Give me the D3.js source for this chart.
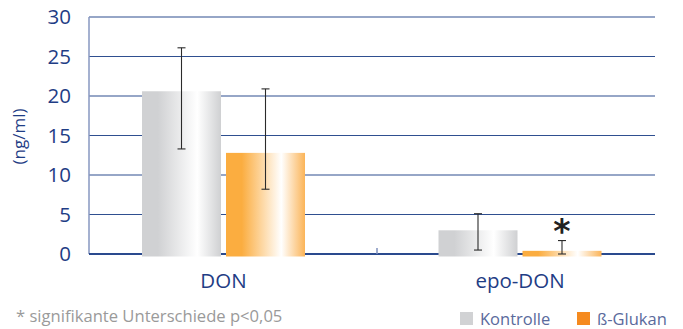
<!DOCTYPE html>
<html><head><meta charset="utf-8">
<script src="https://cdn.jsdelivr.net/npm/d3@7"></script>
<style>body{margin:0;background:#fff}svg{display:block}</style>
</head><body>
<script>
const categories = ["DON", "epo-DON"];
const seriesNames = ["Kontrolle", "ß-Glukan"];
const kontrolleValues = [20.6, 3.0];
const kontrolleLow = [13.3, 0.5];
const kontrolleHigh = [26.1, 5.1];
const glukanValues = [12.8, 0.4];
const glukanLow = [8.2, 0.0];
const glukanHigh = [20.9, 1.7];
const significant = [[false, false], [false, true]];
const yTicks = [0, 5, 10, 15, 20, 25, 30];
const yLabel = "(ng/ml)";
const footnote = "* signifikante Unterschiede p<0,05";

const W = 683, H = 329;
const font = "'Open Sans', sans-serif";
const axisBlue = "#1f3d85";
const svg = d3.select("body").append("svg").attr("width", W).attr("height", H);

const plot = {left: 89, right: 655, top: 17, bottom: 254};
const y = d3.scaleLinear().domain([0, 30]).range([plot.bottom, plot.top]);
const x = d3.scalePoint().domain(categories).range([223.5, 520]);
const xs = d3.scaleBand().domain(seriesNames).range([-81.5, 81.5]).paddingInner(0.0595).paddingOuter(0);

const defs = svg.append("defs");
function grad(id, base, edge) {
  const g = defs.append("linearGradient").attr("id", id).attr("x1", "0").attr("x2", "1").attr("y1", "0").attr("y2", "0");
  [[0, base], [0.2, base], [0.7, "#ffffff"], [1, edge]].forEach(([o, c]) => g.append("stop").attr("offset", o).attr("stop-color", c));
}
grad("gK", "#d0d1d3", "#cfd0d2");
grad("gG", "#fbad40", "#fbb458");

// grid
svg.append("g").selectAll("line").data(yTicks.filter(d => d > 0)).join("line")
  .attr("x1", plot.left).attr("x2", plot.right)
  .attr("y1", d => y(d)).attr("y2", d => y(d))
  .attr("stroke", "#2f4f90").attr("stroke-width", 1.2);
// left axis
svg.append("line").attr("x1", plot.left).attr("x2", plot.left).attr("y1", y(30)).attr("y2", y(0))
  .attr("stroke", "#8797c0").attr("stroke-width", 1.5);
// baseline
svg.append("line").attr("x1", plot.left).attr("x2", plot.right).attr("y1", y(0)).attr("y2", y(0))
  .attr("stroke", "#2a4a8e").attr("stroke-width", 2);
// separator tick
const sepX = 377;
svg.append("line").attr("x1", sepX).attr("x2", sepX).attr("y1", y(0)).attr("y2", y(0) - 6)
  .attr("stroke", "#7f90bd").attr("stroke-width", 1.5);

// y tick labels
svg.append("g").selectAll("text").data(yTicks).join("text")
  .attr("x", 71).attr("y", d => y(d)).attr("dy", "0.36em")
  .attr("text-anchor", "end").attr("font-family", font).attr("font-size", 20.5)
  .attr("fill", axisBlue).text(d => d);

// y label
svg.append("text").attr("transform", `translate(25,${(y(15)+1)}) rotate(-90)`)
  .attr("text-anchor", "middle").attr("font-family", font).attr("font-size", 17)
  .attr("fill", axisBlue).text(yLabel);

// bars
const rows = [];
categories.forEach((c, i) => {
  rows.push({cat: c, s: seriesNames[0], v: kontrolleValues[i], lo: kontrolleLow[i], hi: kontrolleHigh[i], fill: "url(#gK)", sig: significant[i][0]});
  rows.push({cat: c, s: seriesNames[1], v: glukanValues[i], lo: glukanLow[i], hi: glukanHigh[i], fill: "url(#gG)", sig: significant[i][1]});
});
const bx = d => x(d.cat) + xs(d.s);
svg.append("g").selectAll("rect").data(rows).join("rect")
  .attr("x", bx).attr("width", xs.bandwidth())
  .attr("y", d => y(d.v)).attr("height", d => y(0) - y(d.v) + 2.5)
  .attr("fill", d => d.fill);

// error bars
const eb = svg.append("g").attr("stroke", "#2b2b2b").attr("stroke-width", 1.1);
rows.forEach(d => {
  const cx = bx(d) + xs.bandwidth() / 2;
  eb.append("line").attr("x1", cx).attr("x2", cx).attr("y1", y(d.hi)).attr("y2", y(d.lo));
  eb.append("line").attr("x1", cx - 4).attr("x2", cx + 4).attr("y1", y(d.hi)).attr("y2", y(d.hi));
  eb.append("line").attr("x1", cx - 4).attr("x2", cx + 4).attr("y1", y(d.lo)).attr("y2", y(d.lo));
});
// significance
svg.append("g").selectAll("text").data(rows.filter(d => d.sig)).join("text")
  .attr("x", d => bx(d) + xs.bandwidth() / 2).attr("y", d => y(d.hi) + 2)
  .attr("text-anchor", "middle")
  .attr("font-family", "'DejaVu Sans', sans-serif").attr("font-weight", "bold")
  .attr("font-size", 33).attr("fill", "#222")
  .text("*");

// category labels
svg.append("g").selectAll("text").data(categories).join("text")
  .attr("x", d => x(d)).attr("y", 288).attr("text-anchor", "middle")
  .attr("font-family", font).attr("font-size", 20.5).attr("fill", axisBlue).text(d => d);

// legend
const legendColors = ["#d1d2d4", "#f58a1f"];
const legX = [460, 577];
const lg = svg.append("g").selectAll("g").data(seriesNames).join("g")
  .attr("transform", (d, i) => `translate(${legX[i]},312)`);
lg.append("rect").attr("width", 13).attr("height", 13).attr("fill", (d, i) => legendColors[i]);
lg.append("text").attr("x", 20).attr("y", 12.5).attr("font-family", font).attr("font-size", 16.5)
  .attr("fill", "#5a6a9c").text(d => d);

// footnote
svg.append("text").attr("x", 16).attr("y", 321.5).attr("font-family", font).attr("font-size", 16.6)
  .attr("fill", "#9a9a9a").text(footnote);
</script>
</body></html>
